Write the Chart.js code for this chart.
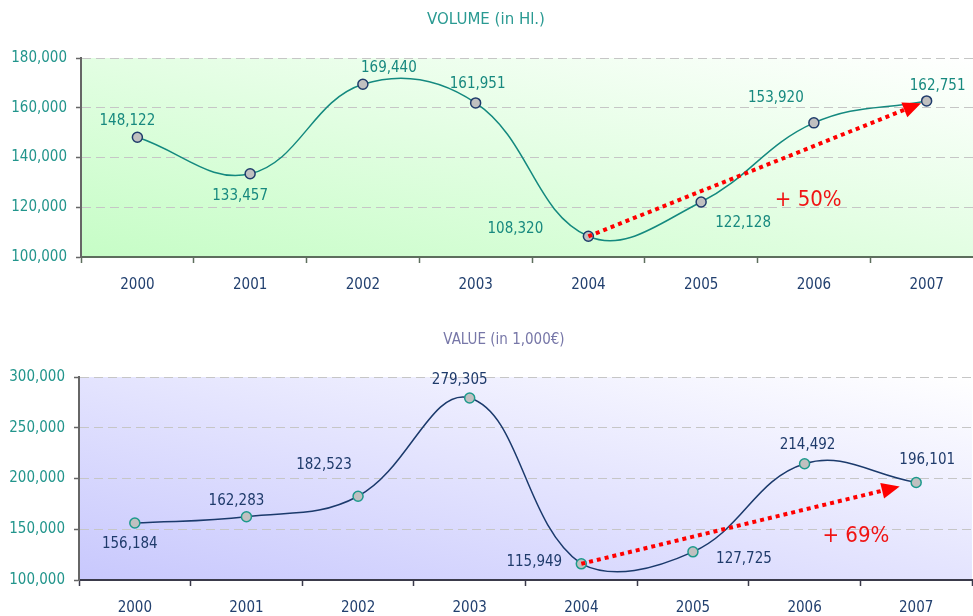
<!DOCTYPE html>
<html>
<head>
<meta charset="utf-8">
<title>Volume and value 2000-2007</title>
<script src="https://cdn.jsdelivr.net/npm/chart.js@4.4.1/dist/chart.umd.min.js"></script>
<style>
    html, body { margin: 0; padding: 0; background: #fff; overflow: hidden; }
    .panel { position: absolute; left: 0; }
    #volumePanel { top: 0; }
    #valuePanel { top: 300px; }
</style>
</head>
<body>
<div class="panel" id="volumePanel"><canvas id="volumeChart" width="990" height="300"></canvas></div>
<div class="panel" id="valuePanel"><canvas id="valueChart" width="990" height="316"></canvas></div>
<script>
// Chart data
const years = ['2000', '2001', '2002', '2003', '2004', '2005', '2006', '2007'];
const volumeValues = [148122, 133457, 169440, 161951, 108320, 122128, 153920, 162751];
const valueValues = [156184, 162283, 182523, 279305, 115949, 127725, 214492, 196101];
const volumeTicks = [100000, 120000, 140000, 160000, 180000];
const valueTicks = [100000, 150000, 200000, 250000, 300000];
const volumeTitle = 'VOLUME (in Hl.)';
const valueTitle = 'VALUE (in 1,000€)';
const volumeGrowth = '+ 50%';
const valueGrowth = '+ 69%';

// Label placement around each point (pixels)
const volumeLabelOffsets = [[-10, -16], [-10, 22], [26, -16], [2, -19], [-73, -7], [42, 21], [-38, -25], [11, -15]];
const valueLabelOffsets = [[-5, 21], [-10, -16], [-34, -31], [-10, -18], [-47, -2], [51, 7], [3, -19], [11, -22]];

const fontFamily = '"DejaVu Sans Condensed", "DejaVu Sans", sans-serif';
const teal = '#22958c';
const navy = '#22406f';

Chart.defaults.font.family = fontFamily;
Chart.defaults.font.size = 15;

// Diagonal gradient behind the plot area
const plotBackground = {
    id: 'plotBackground',
    beforeDraw(chart, args, opts) {
        const a = chart.chartArea;
        const ctx = chart.ctx;
        const w = a.right - a.left;
        const h = a.bottom - a.top;
        const k = 2 / (1 / (w * w) + 1 / (h * h));
        const g = ctx.createLinearGradient(a.left, a.bottom, a.left + k / w, a.bottom - k / h);
        g.addColorStop(0, opts.from);
        g.addColorStop(1, opts.to);
        ctx.save();
        ctx.fillStyle = g;
        ctx.fillRect(a.left, a.top, w, h);
        ctx.restore();
    }
};

// Value labels next to the markers
const pointLabels = {
    id: 'pointLabels',
    afterDatasetsDraw(chart, args, opts) {
        const ctx = chart.ctx;
        const meta = chart.getDatasetMeta(0);
        const values = chart.data.datasets[0].data;
        ctx.save();
        ctx.font = '15px ' + fontFamily;
        ctx.fillStyle = opts.color;
        ctx.textAlign = 'center';
        ctx.textBaseline = 'middle';
        meta.data.forEach((pt, i) => {
            const off = opts.offsets[i];
            ctx.fillText(values[i].toLocaleString('en-US'), pt.x + off[0], pt.y + off[1]);
        });
        ctx.restore();
    }
};

// Red dotted growth arrow with its percentage
const growthArrow = {
    id: 'growthArrow',
    afterDatasetsDraw(chart, args, opts) {
        const ctx = chart.ctx;
        const meta = chart.getDatasetMeta(0);
        const a = meta.data[opts.from];
        const b = meta.data[opts.to];
        const ang = Math.atan2(b.y - a.y, b.x - a.x);
        const cos = Math.cos(ang), sin = Math.sin(ang);
        const len = Math.hypot(b.x - a.x, b.y - a.y) - opts.gap;
        const tipX = a.x + cos * len, tipY = a.y + sin * len;
        const baseX = tipX - cos * 18, baseY = tipY - sin * 18;

        ctx.save();
        ctx.strokeStyle = '#ff0000';
        ctx.fillStyle = '#ff0000';
        ctx.lineWidth = 4;
        ctx.setLineDash([4, 4]);
        ctx.beginPath();
        ctx.moveTo(a.x, a.y);
        ctx.lineTo(baseX, baseY);
        ctx.stroke();
        ctx.setLineDash([]);
        ctx.beginPath();
        ctx.moveTo(tipX, tipY);
        ctx.lineTo(baseX - sin * 8, baseY + cos * 8);
        ctx.lineTo(baseX + sin * 8, baseY - cos * 8);
        ctx.closePath();
        ctx.fill();

        ctx.font = '22px ' + fontFamily;
        ctx.textAlign = 'center';
        ctx.textBaseline = 'middle';
        ctx.fillStyle = '#f01414';
        ctx.fillText(opts.text, chart.scales.x.getPixelForValue(opts.at[0]), chart.scales.y.getPixelForValue(opts.at[1]));
        ctx.restore();
    }
};

// Heading above each chart
const chartHeading = {
    id: 'chartHeading',
    afterDraw(chart, args, opts) {
        const ctx = chart.ctx;
        ctx.save();
        ctx.font = opts.font;
        ctx.fillStyle = opts.color;
        ctx.textAlign = 'center';
        ctx.textBaseline = 'middle';
        ctx.fillText(opts.text, opts.x, opts.y);
        ctx.restore();
    }
};

function makeChart(id, cfg) {
    const min = cfg.ticks[0];
    const max = cfg.ticks[cfg.ticks.length - 1];
    return new Chart(document.getElementById(id), {
        type: 'line',
        data: {
            labels: years,
            datasets: [{
                data: cfg.values,
                borderColor: cfg.lineColor,
                borderWidth: 1.5,
                tension: 0.4,
                fill: false,
                pointRadius: 5,
                pointHoverRadius: 5,
                pointBackgroundColor: '#c0c0c0',
                pointBorderColor: cfg.markerColor,
                pointBorderWidth: 1.5
            }]
        },
        options: {
            responsive: false,
            animation: false,
            events: [],
            layout: { padding: cfg.padding },
            plugins: {
                legend: { display: false },
                tooltip: { enabled: false },
                plotBackground: { from: cfg.shade, to: '#ffffff' },
                pointLabels: { color: cfg.labelColor, offsets: cfg.labelOffsets },
                growthArrow: { from: 4, to: 7, gap: cfg.arrowGap, text: cfg.growth, at: cfg.growthAt },
                chartHeading: cfg.heading
            },
            scales: {
                x: {
                    type: 'category',
                    offset: true,
                    grid: {
                        offset: true,
                        drawOnChartArea: false,
                        drawTicks: true,
                        tickLength: 6,
                        tickColor: cfg.xAxisColor,
                        tickWidth: 1.5
                    },
                    border: { color: cfg.xAxisColor, width: 2 },
                    ticks: { color: navy, padding: 13, maxRotation: 0, autoSkip: false },
                    afterFit: s => { s.height = cfg.xAxisHeight; }
                },
                y: {
                    min: min,
                    max: max,
                    grid: {
                        color: c => (c.tick && c.tick.value === min) ? 'rgba(0,0,0,0)' : '#c6c6c6',
                        lineWidth: 1,
                        tickLength: 5,
                        tickColor: '#666666',
                        tickWidth: 1.5
                    },
                    border: { color: '#666666', width: 2, dash: [9, 5] },
                    ticks: {
                        color: teal,
                        padding: 9,
                        callback: v => v.toLocaleString('en-US')
                    },
                    afterBuildTicks: s => { s.ticks = cfg.ticks.map(v => ({ value: v })); },
                    afterFit: s => { s.width = cfg.yAxisWidth; }
                }
            }
        },
        plugins: [plotBackground, pointLabels, growthArrow, chartHeading]
    });
}

makeChart('volumeChart', {
    values: volumeValues,
    ticks: volumeTicks,
    lineColor: '#14897f',
    markerColor: '#1f3b6b',
    labelColor: '#17897f',
    shade: '#c6fdc6',
    xAxisColor: '#5d6e5d',
    padding: { top: 58, right: 7, bottom: 0, left: 0 },
    yAxisWidth: 81,
    xAxisHeight: 43,
    labelOffsets: volumeLabelOffsets,
    arrowGap: 6,
    growth: volumeGrowth,
    growthAt: [5.95, 122900],
    heading: { text: volumeTitle, color: '#2a9a92', x: 486, y: 20, font: '15px "DejaVu Sans", sans-serif' }
});

makeChart('valueChart', {
    values: valueValues,
    ticks: valueTicks,
    lineColor: '#1b3a6c',
    markerColor: '#1d9a8c',
    labelColor: '#1f3b6b',
    shade: '#c8c8fd',
    xAxisColor: '#3a3a4a',
    padding: { top: 77, right: 18, bottom: 0, left: 0 },
    yAxisWidth: 79,
    xAxisHeight: 36,
    labelOffsets: valueLabelOffsets,
    arrowGap: 17,
    growth: valueGrowth,
    growthAt: [6.46, 143350],
    heading: { text: valueTitle, color: '#7777a8', x: 504, y: 40, font: '15px ' + fontFamily }
});
</script>
</body>
</html>
